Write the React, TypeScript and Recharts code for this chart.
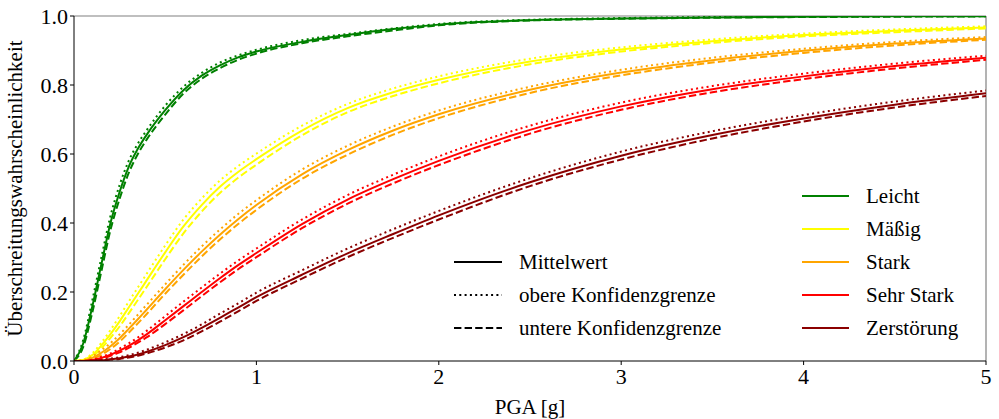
import React from 'react';
import { LineChart, Line, XAxis, YAxis, ReferenceLine } from 'recharts';

const pga = [0, 0.05, 0.1, 0.15, 0.2, 0.25, 0.3, 0.35, 0.4, 0.5, 0.6, 0.7, 0.8, 0.9, 1.0, 1.25, 1.5, 1.75, 2.0, 2.5, 3.0, 3.5, 4.0, 4.5, 5.0];

const leichtMean = [0, 0.05, 0.157, 0.28, 0.4, 0.49, 0.563, 0.615, 0.657, 0.727, 0.785, 0.827, 0.857, 0.88, 0.897, 0.925, 0.945, 0.962, 0.975, 0.988, 0.993, 0.996, 0.998, 0.999, 0.999];
const leichtUpper = [0, 0.06, 0.175, 0.3, 0.42, 0.51, 0.58, 0.63, 0.67, 0.74, 0.795, 0.835, 0.865, 0.886, 0.902, 0.93, 0.948, 0.964, 0.977, 0.989, 0.994, 0.997, 0.998, 0.999, 0.9995];
const leichtLower = [0, 0.04, 0.14, 0.26, 0.38, 0.47, 0.545, 0.6, 0.643, 0.714, 0.775, 0.818, 0.849, 0.873, 0.891, 0.921, 0.941, 0.958, 0.973, 0.987, 0.992, 0.995, 0.997, 0.998, 0.999];

const maessigMean = [0, 0.003, 0.017, 0.045, 0.078, 0.115, 0.155, 0.195, 0.235, 0.315, 0.39, 0.452, 0.505, 0.548, 0.585, 0.668, 0.733, 0.779, 0.815, 0.868, 0.903, 0.927, 0.945, 0.957, 0.967];
const maessigUpper = [0, 0.004, 0.022, 0.053, 0.09, 0.13, 0.172, 0.213, 0.254, 0.335, 0.41, 0.471, 0.523, 0.565, 0.601, 0.682, 0.745, 0.79, 0.825, 0.876, 0.909, 0.932, 0.949, 0.961, 0.97];
const maessigLower = [0, 0.002, 0.013, 0.037, 0.067, 0.1, 0.138, 0.177, 0.216, 0.295, 0.37, 0.433, 0.487, 0.531, 0.569, 0.654, 0.721, 0.768, 0.805, 0.86, 0.897, 0.922, 0.941, 0.953, 0.964];

const starkMean = [0, 0.001, 0.009, 0.024, 0.043, 0.066, 0.093, 0.121, 0.15, 0.208, 0.264, 0.317, 0.366, 0.411, 0.452, 0.541, 0.611, 0.668, 0.715, 0.786, 0.836, 0.872, 0.899, 0.92, 0.935];
const starkUpper = [0, 0.002, 0.013, 0.031, 0.052, 0.077, 0.105, 0.134, 0.164, 0.222, 0.279, 0.332, 0.381, 0.426, 0.466, 0.555, 0.624, 0.68, 0.726, 0.795, 0.844, 0.879, 0.905, 0.925, 0.939];
const starkLower = [0, 0.001, 0.006, 0.018, 0.035, 0.056, 0.082, 0.109, 0.137, 0.195, 0.25, 0.303, 0.352, 0.397, 0.438, 0.528, 0.598, 0.656, 0.704, 0.777, 0.828, 0.865, 0.893, 0.915, 0.931];

const sehrStarkMean = [0, 0, 0.003, 0.009, 0.018, 0.03, 0.044, 0.06, 0.078, 0.118, 0.159, 0.2, 0.24, 0.278, 0.313, 0.397, 0.468, 0.527, 0.58, 0.67, 0.738, 0.788, 0.825, 0.855, 0.879];
const sehrStarkUpper = [0, 0, 0.004, 0.012, 0.022, 0.036, 0.051, 0.068, 0.088, 0.13, 0.172, 0.213, 0.253, 0.291, 0.326, 0.41, 0.481, 0.54, 0.593, 0.682, 0.749, 0.797, 0.833, 0.862, 0.885];
const sehrStarkLower = [0, 0, 0.002, 0.007, 0.015, 0.025, 0.038, 0.053, 0.069, 0.107, 0.147, 0.188, 0.228, 0.266, 0.301, 0.385, 0.456, 0.515, 0.568, 0.659, 0.728, 0.779, 0.817, 0.848, 0.873];

const zerstoerungMean = [0, 0, 0.0005, 0.002, 0.005, 0.008, 0.013, 0.019, 0.027, 0.046, 0.069, 0.096, 0.125, 0.155, 0.185, 0.25, 0.312, 0.368, 0.422, 0.518, 0.595, 0.655, 0.703, 0.743, 0.776];
const zerstoerungUpper = [0, 0, 0.001, 0.003, 0.007, 0.011, 0.017, 0.024, 0.033, 0.054, 0.078, 0.106, 0.137, 0.167, 0.198, 0.263, 0.326, 0.382, 0.435, 0.53, 0.607, 0.666, 0.713, 0.752, 0.784];
const zerstoerungLower = [0, 0, 0.0003, 0.0015, 0.004, 0.006, 0.01, 0.015, 0.022, 0.039, 0.06, 0.086, 0.114, 0.144, 0.174, 0.239, 0.301, 0.357, 0.41, 0.507, 0.584, 0.645, 0.694, 0.735, 0.768];

const xTicks = [0, 1, 2, 3, 4, 5];
const yTicks = [0, 0.2, 0.4, 0.6, 0.8, 1.0];

const classes = [
  { key: 'leicht', name: 'Leicht', color: '#008000', m: leichtMean, u: leichtUpper, l: leichtLower },
  { key: 'maessig', name: 'Mäßig', color: '#ffff00', m: maessigMean, u: maessigUpper, l: maessigLower },
  { key: 'stark', name: 'Stark', color: '#ffa500', m: starkMean, u: starkUpper, l: starkLower },
  { key: 'sehrstark', name: 'Sehr Stark', color: '#ff0000', m: sehrStarkMean, u: sehrStarkUpper, l: sehrStarkLower },
  { key: 'zerstoerung', name: 'Zerstörung', color: '#8b0000', m: zerstoerungMean, u: zerstoerungUpper, l: zerstoerungLower },
];

const data = pga.map((x, i) => {
  const row: Record<string, number> = { x };
  classes.forEach((c) => {
    row[c.key + 'M'] = c.m[i];
    row[c.key + 'U'] = c.u[i];
    row[c.key + 'L'] = c.l[i];
  });
  return row;
});

const F = '"Liberation Serif"';
const DOT = '2 3.3';
const DASH = '7.4 3.2';

const styleRows = [
  { label: 'Mittelwert', dash: undefined as string | undefined },
  { label: 'obere Konfidenzgrenze', dash: DOT },
  { label: 'untere Konfidenzgrenze', dash: DASH },
];

function LegendRow({ x, y, color, dash, label, lineW }: { x: number; y: number; color: string; dash?: string; label: string; lineW: number }) {
  return (
    <div style={{ position: 'absolute', left: x, top: y - 15, height: 30, display: 'flex', alignItems: 'center', whiteSpace: 'nowrap' }}>
      <svg width={lineW} height={6} style={{ display: 'block' }}>
        <line x1={0} y1={3} x2={lineW} y2={3} stroke={color} strokeWidth={2.2} strokeDasharray={dash} />
      </svg>
      <span style={{ marginLeft: 17, fontFamily: F, fontSize: 21, lineHeight: '30px', color: '#000' }}>{label}</span>
    </div>
  );
}

export default function App() {
  return (
    <div style={{ position: 'absolute', left: 0, top: 0, width: 999, height: 419, background: '#fff', overflow: 'hidden' }}>
      <LineChart width={999} height={419} data={data} margin={{ top: 16, right: 13, bottom: 0, left: 0 }}>
        <XAxis
          dataKey="x"
          type="number"
          domain={[0, 5]}
          ticks={xTicks}
          allowDataOverflow
          height={58}
          tickSize={4}
          tickMargin={3}
          stroke="#000"
          tick={{ fontSize: 22, fill: '#000', fontFamily: F }}
          tickFormatter={(v: number) => String(v)}
          label={{ value: 'PGA [g]', position: 'center', dy: 17, fontFamily: F, fontSize: 21, fill: '#000' }}
        />
        <YAxis
          type="number"
          domain={[0, 1]}
          ticks={yTicks}
          allowDataOverflow
          width={74}
          tickSize={4}
          tickMargin={2}
          stroke="#000"
          tick={{ fontSize: 22, fill: '#000', fontFamily: F }}
          tickFormatter={(v: number) => v.toFixed(1)}
          label={{ value: 'Überschreitungswahrscheinlichkeit', angle: -90, position: 'center', dx: -22, fontFamily: F, fontSize: 21, fill: '#000', textAnchor: 'middle' }}
        />
        <ReferenceLine y={1} stroke="#808080" strokeWidth={1.2} />
        <ReferenceLine x={5} stroke="#808080" strokeWidth={1.2} />
        {classes.map((c) => [
          <Line key={c.key + 'U'} type="monotone" dataKey={c.key + 'U'} stroke={c.color} strokeWidth={2} strokeDasharray={DOT} dot={false} isAnimationActive={false} />,
          <Line key={c.key + 'L'} type="monotone" dataKey={c.key + 'L'} stroke={c.color} strokeWidth={2} strokeDasharray={DASH} dot={false} isAnimationActive={false} />,
          <Line key={c.key + 'M'} type="monotone" dataKey={c.key + 'M'} stroke={c.color} strokeWidth={2} dot={false} isAnimationActive={false} />,
        ])}
      </LineChart>
      {styleRows.map((r, i) => (
        <LegendRow key={r.label} x={454} y={262 + i * 33} color="#000" dash={r.dash} label={r.label} lineW={48} />
      ))}
      {classes.map((c, i) => (
        <LegendRow key={c.key} x={802} y={196 + i * 33} color={c.color} label={c.name} lineW={47} />
      ))}
    </div>
  );
}
